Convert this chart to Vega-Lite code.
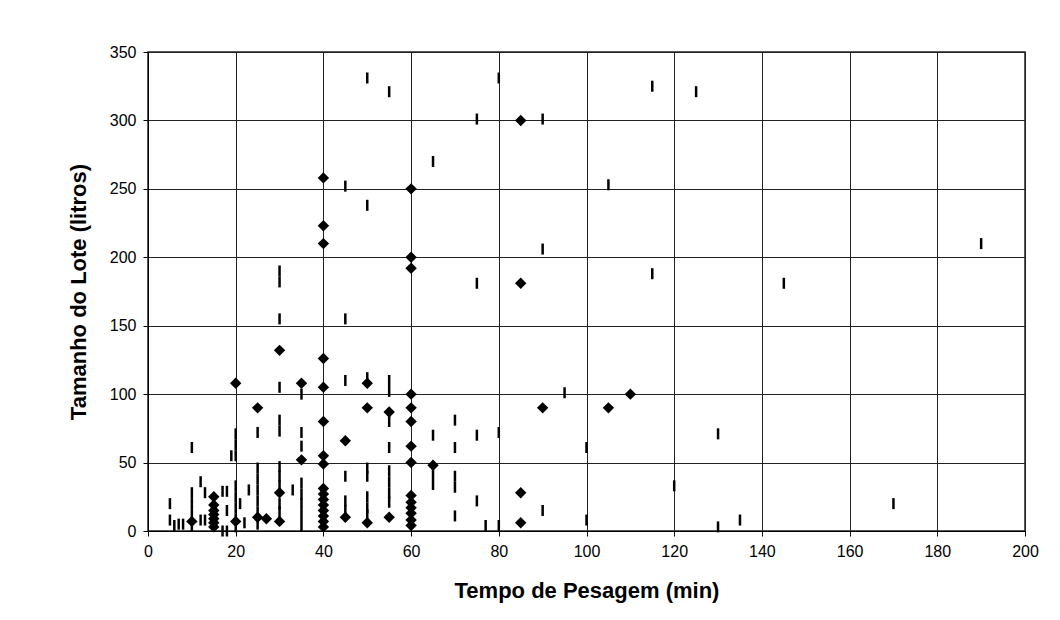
{
  "$schema": "https://vega.github.io/schema/vega-lite/v6.json",
  "width": 877,
  "height": 479,
  "autosize": {"type": "none"},
  "padding": {"left": 148, "top": 52, "right": 35, "bottom": 89},
  "background": "white",
  "config": {
    "font": "Liberation Sans",
    "view": {"stroke": "#222222", "strokeWidth": 1.5},
    "axis": {
      "domainColor": "#000000",
      "domainWidth": 1,
      "tickColor": "#000000",
      "tickSize": 5,
      "gridColor": "#222222",
      "gridWidth": 1,
      "gridOpacity": 1,
      "labelFont": "Liberation Sans",
      "labelFontSize": 16,
      "labelColor": "#000000",
      "titleFont": "Liberation Sans",
      "titleFontSize": 22,
      "titleFontWeight": "bold",
      "titleColor": "#000000"
    }
  },
  "datasets": {
    "losango": [
      {"t": 10, "v": 7},
      {"t": 15, "v": 25}, {"t": 15, "v": 19}, {"t": 15, "v": 15}, {"t": 15, "v": 12}, {"t": 15, "v": 9}, {"t": 15, "v": 6}, {"t": 15, "v": 3},
      {"t": 20, "v": 108}, {"t": 20, "v": 7},
      {"t": 25, "v": 90}, {"t": 25, "v": 10},
      {"t": 27, "v": 9},
      {"t": 30, "v": 132}, {"t": 30, "v": 28}, {"t": 30, "v": 7},
      {"t": 35, "v": 108}, {"t": 35, "v": 52},
      {"t": 40, "v": 258}, {"t": 40, "v": 223}, {"t": 40, "v": 210}, {"t": 40, "v": 126}, {"t": 40, "v": 105}, {"t": 40, "v": 80}, {"t": 40, "v": 55}, {"t": 40, "v": 49},
      {"t": 40, "v": 31}, {"t": 40, "v": 27}, {"t": 40, "v": 23}, {"t": 40, "v": 19}, {"t": 40, "v": 15}, {"t": 40, "v": 11}, {"t": 40, "v": 7}, {"t": 40, "v": 3},
      {"t": 45, "v": 66}, {"t": 45, "v": 10},
      {"t": 50, "v": 108}, {"t": 50, "v": 90}, {"t": 50, "v": 6},
      {"t": 55, "v": 87}, {"t": 55, "v": 10},
      {"t": 60, "v": 250}, {"t": 60, "v": 200}, {"t": 60, "v": 192}, {"t": 60, "v": 100}, {"t": 60, "v": 90}, {"t": 60, "v": 80}, {"t": 60, "v": 62}, {"t": 60, "v": 50},
      {"t": 60, "v": 26}, {"t": 60, "v": 21}, {"t": 60, "v": 17}, {"t": 60, "v": 13}, {"t": 60, "v": 8}, {"t": 60, "v": 4},
      {"t": 65, "v": 48},
      {"t": 85, "v": 300}, {"t": 85, "v": 181}, {"t": 85, "v": 28}, {"t": 85, "v": 6},
      {"t": 90, "v": 90},
      {"t": 105, "v": 90},
      {"t": 110, "v": 100}
    ],
    "traco": [
      {"t": 5, "v": 20}, {"t": 5, "v": 8}, {"t": 6, "v": 4}, {"t": 7, "v": 5}, {"t": 8, "v": 5},
      {"t": 10, "v": 61}, {"t": 10, "v": 28}, {"t": 10, "v": 20}, {"t": 10, "v": 12}, {"t": 10, "v": 4},
      {"t": 12, "v": 36}, {"t": 12, "v": 8}, {"t": 13, "v": 28}, {"t": 13, "v": 8},
      {"t": 17, "v": 29}, {"t": 17, "v": 0}, {"t": 18, "v": 29}, {"t": 18, "v": 15}, {"t": 18, "v": 0}, {"t": 19, "v": 55},
      {"t": 20, "v": 71}, {"t": 20, "v": 63}, {"t": 20, "v": 55}, {"t": 20, "v": 33}, {"t": 20, "v": 25}, {"t": 20, "v": 17}, {"t": 20, "v": 9}, {"t": 20, "v": 3},
      {"t": 21, "v": 20}, {"t": 22, "v": 6}, {"t": 23, "v": 30},
      {"t": 25, "v": 72}, {"t": 25, "v": 46}, {"t": 25, "v": 38}, {"t": 25, "v": 30}, {"t": 25, "v": 22}, {"t": 25, "v": 14}, {"t": 25, "v": 5},
      {"t": 30, "v": 190}, {"t": 30, "v": 182}, {"t": 30, "v": 155}, {"t": 30, "v": 105}, {"t": 30, "v": 81}, {"t": 30, "v": 73},
      {"t": 30, "v": 47}, {"t": 30, "v": 40}, {"t": 30, "v": 33}, {"t": 30, "v": 20}, {"t": 30, "v": 14},
      {"t": 33, "v": 30},
      {"t": 35, "v": 100}, {"t": 35, "v": 72}, {"t": 35, "v": 62}, {"t": 35, "v": 35}, {"t": 35, "v": 27}, {"t": 35, "v": 20}, {"t": 35, "v": 12}, {"t": 35, "v": 4},
      {"t": 45, "v": 252}, {"t": 45, "v": 155}, {"t": 45, "v": 110}, {"t": 45, "v": 40}, {"t": 45, "v": 22}, {"t": 45, "v": 15},
      {"t": 50, "v": 331}, {"t": 50, "v": 238}, {"t": 50, "v": 112}, {"t": 50, "v": 46}, {"t": 50, "v": 40}, {"t": 50, "v": 25}, {"t": 50, "v": 17}, {"t": 50, "v": 12},
      {"t": 55, "v": 321}, {"t": 55, "v": 110}, {"t": 55, "v": 102}, {"t": 55, "v": 80}, {"t": 55, "v": 61}, {"t": 55, "v": 44}, {"t": 55, "v": 36}, {"t": 55, "v": 28}, {"t": 55, "v": 21},
      {"t": 65, "v": 270}, {"t": 65, "v": 70}, {"t": 65, "v": 42}, {"t": 65, "v": 34},
      {"t": 70, "v": 81}, {"t": 70, "v": 61}, {"t": 70, "v": 40}, {"t": 70, "v": 32}, {"t": 70, "v": 11},
      {"t": 75, "v": 301}, {"t": 75, "v": 181}, {"t": 75, "v": 70}, {"t": 75, "v": 22},
      {"t": 77, "v": 4},
      {"t": 80, "v": 331}, {"t": 80, "v": 72}, {"t": 80, "v": 4},
      {"t": 90, "v": 301}, {"t": 90, "v": 206}, {"t": 90, "v": 15},
      {"t": 95, "v": 101},
      {"t": 100, "v": 61}, {"t": 100, "v": 8},
      {"t": 105, "v": 253},
      {"t": 115, "v": 325}, {"t": 115, "v": 188},
      {"t": 120, "v": 33},
      {"t": 125, "v": 321},
      {"t": 130, "v": 71}, {"t": 130, "v": 3},
      {"t": 135, "v": 8},
      {"t": 145, "v": 181},
      {"t": 170, "v": 20},
      {"t": 190, "v": 210}
    ]
  },
  "encoding": {
    "x": {
      "field": "t", "type": "quantitative",
      "scale": {"domain": [0, 200], "nice": false, "zero": true},
      "axis": {"values": [0, 20, 40, 60, 80, 100, 120, 140, 160, 180, 200], "title": "Tempo de Pesagem (min)", "labelPadding": 7, "titlePadding": 21, "labelFlush": false}
    },
    "y": {
      "field": "v", "type": "quantitative",
      "scale": {"domain": [0, 350], "nice": false},
      "axis": {"values": [0, 50, 100, 150, 200, 250, 300, 350], "title": "Tamanho do Lote (litros)", "labelPadding": 7, "titlePadding": 19, "labelFlush": false}
    }
  },
  "layer": [
    {
      "data": {"name": "traco"},
      "mark": {"type": "tick", "orient": "vertical", "size": 11, "thickness": 2.5, "color": "#000000", "opacity": 1}
    },
    {
      "data": {"name": "losango"},
      "mark": {"type": "point", "shape": "diamond", "filled": true, "size": 130, "color": "#000000", "opacity": 1}
    }
  ]
}
